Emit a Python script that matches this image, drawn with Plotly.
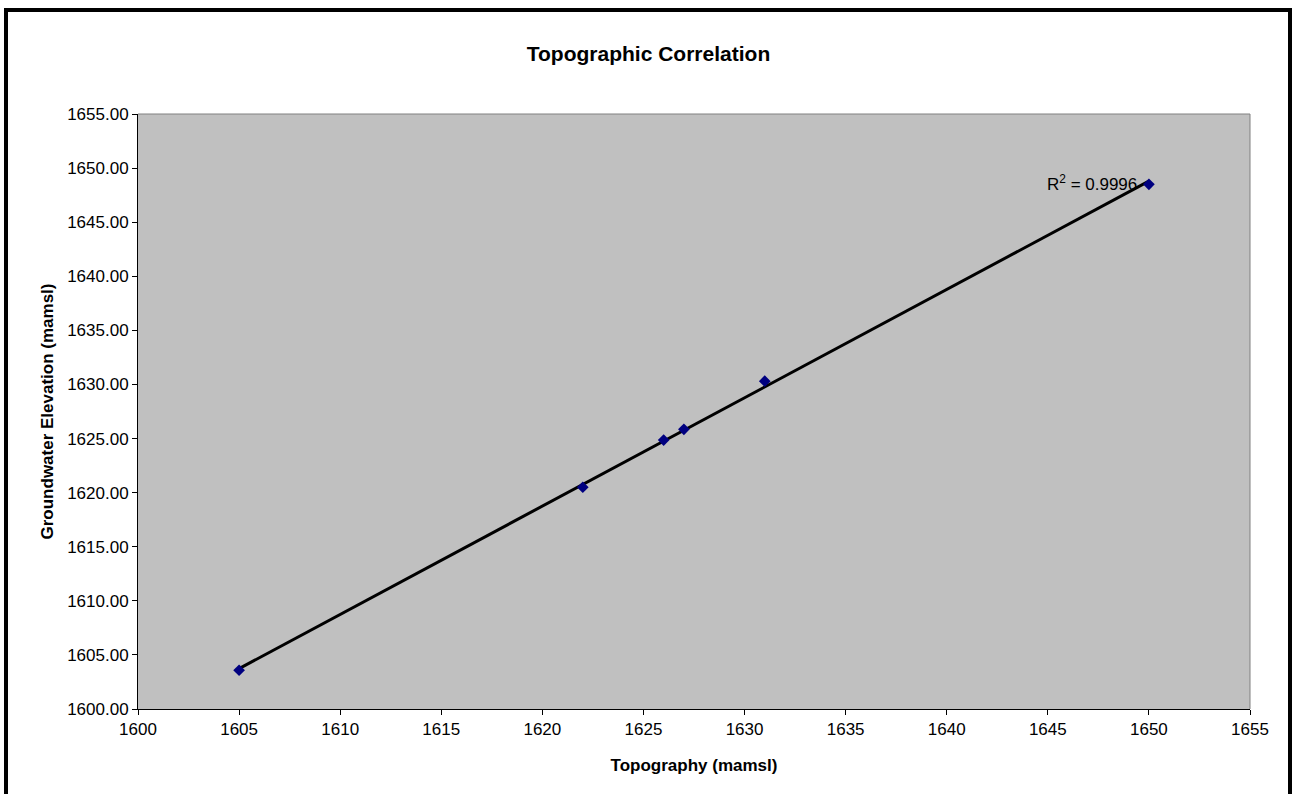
import numpy as np
import plotly.graph_objects as go

topography = [1605, 1622, 1626, 1627, 1631, 1650]
groundwater = [1603.58, 1620.5, 1624.86, 1625.85, 1630.3, 1648.5]
r2_label = "R<sup>2</sup> = 0.9996"

W, H = 1297, 794
L, R, T, B = 138, 47, 114, 85
pw, ph = W - L - R, H - T - B

def px(x):
    return (x - L) / pw

def py(y):
    return (H - B - y) / ph

coef = np.polyfit(topography, groundwater, 1)
tx = [min(topography), max(topography)]
ty = [coef[0] * v + coef[1] for v in tx]

fig = go.Figure()
fig.add_trace(go.Scatter(x=tx, y=ty, mode="lines",
                         line=dict(color="black", width=3), showlegend=False))
fig.add_trace(go.Scatter(x=topography, y=groundwater, mode="markers",
                         marker=dict(symbol="diamond", size=9, color="#000080"),
                         showlegend=False))

fig.update_layout(
    width=W, height=H,
    margin=dict(l=L, r=R, t=T, b=B),
    paper_bgcolor="white", plot_bgcolor="#C0C0C0",
    font=dict(family="Liberation Sans, Arial", size=17, color="black"),
    title=dict(text="<b>Topographic Correlation</b>", x=0.5, xanchor="center",
               y=1 - 54 / H, yanchor="middle", font=dict(size=21)),
    xaxis=dict(range=[1600, 1655], dtick=5, tick0=1600, showgrid=False, zeroline=False,
               showline=True, linecolor="black", linewidth=1, ticks="outside", ticklen=5,
               tickcolor="black", tickfont=dict(size=17),
               title=dict(text="<b>Topography (mamsl)</b>", font=dict(size=17), standoff=20)),
    yaxis=dict(range=[1600, 1655], dtick=5, tick0=1600, showgrid=False, zeroline=False,
               showline=True, linecolor="black", linewidth=1, ticks="outside", ticklen=5,
               tickcolor="black", tickformat=".2f", tickfont=dict(size=17),
               title=dict(text="<b>Groundwater Elevation (mamsl)</b>", font=dict(size=17), standoff=9)),
    shapes=[
        dict(type="line", xref="paper", yref="paper", x0=0, x1=1, y0=1, y1=1,
             line=dict(color="#808080", width=1)),
        dict(type="line", xref="paper", yref="paper", x0=1, x1=1, y0=0, y1=1,
             line=dict(color="#808080", width=1)),
        dict(type="rect", xref="paper", yref="paper", x0=px(6), x1=px(1290), y0=py(10), y1=py(805),
             line=dict(color="black", width=4), fillcolor="rgba(0,0,0,0)", layer="above"),
    ],
    annotations=[
        dict(x=1650, y=1648.5, xref="x", yref="y", text=r2_label, showarrow=False,
             xanchor="right", yanchor="middle", xshift=-10, yshift=1, font=dict(size=17)),
    ],
)

fig.write_html("out.html", config={"displayModeBar": False},
               post_script="document.body.style.margin='0px';document.body.style.overflow='hidden';")
